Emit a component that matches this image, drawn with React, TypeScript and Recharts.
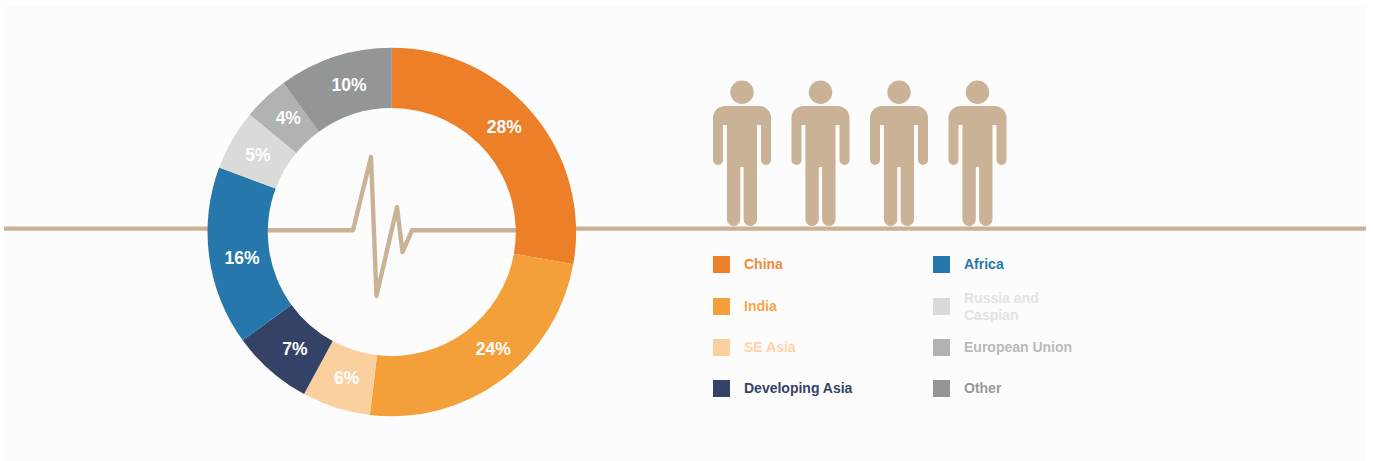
import React from "react";
import { PieChart, Pie, Cell, Legend } from "recharts";

const categories = ["China", "India", "SE Asia", "Developing Asia", "Africa", "Russia and Caspian", "European Union", "Other"];
const shares = [27.8, 24.1, 6.0, 7.1, 15.7, 5.3, 4, 10];
const sliceColors = ["#EC7F28", "#F4A03A", "#FBD09F", "#344267", "#2678AC", "#DADAD8", "#AFB3B2", "#939696"];
const legendTextColors = ["#EF8A3A", "#F5A547", "#FCD4A8", "#344267", "#2678AC", "#E3E3E1", "#B6BAB9", "#96999A"];
const people = [742, 820.5, 899, 977.5];

// Hand placement of the labels relative to the ring's mid-radius (layout, not data)
const labelNudgeX = [-6, 9.2, 1, 4.2, 2.3, -1, 1.4, 4.3];
const labelNudgeY = [-5.7, -7, -1, 1.2, 5.4, 0, -1.4, -0.5];

const TAN = "#CAB297";
const FONT = '"Liberation Sans", Arial, sans-serif';
const W = 1373;
const H = 461;
const CX = 391.8;
const CY = 232;
const LABEL_CX = 392.3;
const LABEL_R = 154;

const chartData = categories.map((name, i) => ({ name, value: shares[i] }));

const personPath =
  "M-29 118a12 12 0 0 1 12-12H17a12 12 0 0 1 12 12V160a5 5 0 0 1-10 0V125H15V219.3a6.7 6.7 0 0 1-13.4 0V167H-1.7V219.3a6.7 6.7 0 0 1-13.4 0V125H-19V160a5 5 0 0 1-10 0Z";

const renderLabel = (props: any) => {
  const { midAngle, index, value } = props;
  const a = (-midAngle * Math.PI) / 180;
  const x = LABEL_CX + LABEL_R * Math.cos(a) + labelNudgeX[index];
  const y = CY + LABEL_R * Math.sin(a) + labelNudgeY[index];
  return (
    <text x={x} y={y} fill="#fff" fontFamily={FONT} fontWeight={700} fontSize={17.5} textAnchor="middle" dominantBaseline="central">
      {Math.round(value)}%
    </text>
  );
};

const rowTops = [256, 298, 339, 380];

const renderLegend = () => (
  <div style={{ position: "relative", width: W, height: H, fontFamily: FONT, fontWeight: 700, fontSize: 14 }}>
    {categories.map((name, i) => {
      const col = i < 4 ? 0 : 1;
      const top = rowTops[i % 4];
      const left = col === 0 ? 713 : 933;
      const twoLines = name.length > 15;
      return (
        <React.Fragment key={name}>
          <div style={{ position: "absolute", left, top, width: 17, height: 17, background: sliceColors[i] }} />
          <div
            style={{
              position: "absolute",
              left: left + 31,
              top: twoLines ? top - 8 : top,
              width: 110,
              lineHeight: "17px",
              color: legendTextColors[i],
            }}
          >
            {name}
          </div>
        </React.Fragment>
      );
    })}
  </div>
);

export default function App() {
  return (
    <div style={{ position: "absolute", left: 0, top: 0, width: W, height: H, background: "#fff", overflow: "hidden" }}>
      <div style={{ position: "absolute", left: 4, top: 6, width: 1362, height: 455, background: "#FCFCFC" }} />
      <svg width={W} height={H} style={{ position: "absolute", left: 0, top: 0 }}>
        <line x1={4} x2={212} y1={228.7} y2={228.7} stroke={TAN} strokeWidth={4.2} />
        <line x1={572} x2={1366} y1={228.7} y2={228.7} stroke={TAN} strokeWidth={4.2} />
        <polyline
          points="266,230.3 353,230.3 371,157 376.5,296 397,207 402.5,252 412,230.3 518,230.3"
          fill="none"
          stroke={TAN}
          strokeWidth={4.4}
          strokeLinejoin="round"
          strokeLinecap="round"
        />
        {people.map((x) => (
          <g key={x} transform={`translate(${x} 0)`} fill={TAN}>
            <circle cx={0} cy={92.3} r={11.7} />
            <path d={personPath} />
          </g>
        ))}
      </svg>
      <div style={{ position: "absolute", left: 0, top: 0 }}>
        <PieChart width={W} height={H} margin={{ top: 0, right: 0, bottom: 0, left: 0 }}>
          <Pie
            data={chartData}
            dataKey="value"
            nameKey="name"
            cx={CX}
            cy={CY}
            innerRadius={124}
            outerRadius={184.3}
            startAngle={90}
            endAngle={-270}
            stroke="none"
            label={renderLabel}
            labelLine={false}
            isAnimationActive={false}
          >
            {chartData.map((d, i) => (
              <Cell key={d.name} fill={sliceColors[i]} />
            ))}
          </Pie>
          <Legend content={renderLegend} wrapperStyle={{ position: "absolute", left: 0, top: 0, width: W, height: H, pointerEvents: "none" }} />
        </PieChart>
      </div>
    </div>
  );
}
